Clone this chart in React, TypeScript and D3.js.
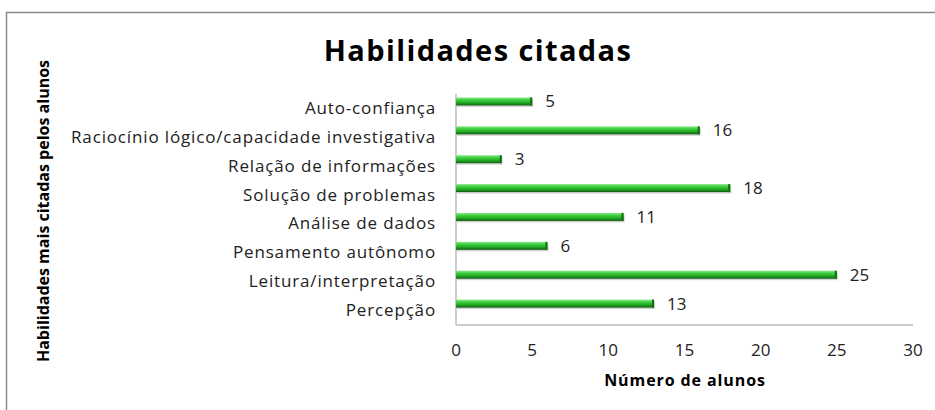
import React, { useRef, useEffect } from 'react'
import * as d3 from 'd3'

const categories = [
  'Auto-confiança',
  'Raciocínio lógico/capacidade investigativa',
  'Relação de informações',
  'Solução de problemas',
  'Análise de dados',
  'Pensamento autônomo',
  'Leitura/interpretação',
  'Percepção',
]
const values = [5, 16, 3, 18, 11, 6, 25, 13]
const xTicks = [0, 5, 10, 15, 20, 25, 30]

const font = '"Open Sans", "Noto Sans", sans-serif'

const App = () => {
  const svgRef = useRef<SVGSVGElement>(null)

  useEffect(() => {
    const svg = d3.select(svgRef.current)
    svg.selectAll('*').remove()

    const x = d3.scaleLinear().domain([0, 30]).range([456, 913])
    const y = d3.scaleBand().domain(categories).range([94, 325]).padding(0)
    const depth = 7 // 3d offset of the bars

    const defs = svg.append('defs')
    const grad = defs.append('linearGradient').attr('id', 'barGrad')
      .attr('x1', 0).attr('y1', 0).attr('x2', 0).attr('y2', 1)
    grad.append('stop').attr('offset', '0%').attr('stop-color', '#8fe88f')
    grad.append('stop').attr('offset', '30%').attr('stop-color', '#3fd03f')
    grad.append('stop').attr('offset', '65%').attr('stop-color', '#24aa24')
    grad.append('stop').attr('offset', '100%').attr('stop-color', '#0f5f0f')

    // frame
    svg.append('path').attr('d', 'M6.5,410 L6.5,12.5 L935,12.5')
      .attr('fill', 'none').attr('stroke', '#8a8a8a').attr('stroke-width', 1.5)

    // title
    svg.append('text').attr('x', 478).attr('y', 61).attr('text-anchor', 'middle')
      .attr('font-family', font).attr('font-weight', 'bold').attr('font-size', 29)
      .attr('letter-spacing', 1.4)
      .text('Habilidades citadas')

    // axes lines
    svg.append('line').attr('x1', 456).attr('x2', 456).attr('y1', 94).attr('y2', 325)
      .attr('stroke', '#bdbdbd').attr('stroke-width', 1.5)
    svg.append('line').attr('x1', 456).attr('x2', 913).attr('y1', 325).attr('y2', 325)
      .attr('stroke', '#bdbdbd').attr('stroke-width', 1.5)

    // x ticks
    svg.selectAll('.xt').data(xTicks).join('text').attr('class', 'xt')
      .attr('x', d => x(d)).attr('y', 356).attr('text-anchor', 'middle')
      .attr('font-family', font).attr('font-size', 17).attr('fill', '#222')
      .text(d => d)

    // category labels
    svg.selectAll('.cat').data(categories).join('text').attr('class', 'cat')
      .attr('x', 436).attr('y', d => y(d)! + y.bandwidth() / 2 + 5.5)
      .attr('text-anchor', 'end')
      .attr('font-family', font).attr('font-size', 17).attr('fill', '#222')
      .attr('letter-spacing', 0.85)
      .text(d => d)

    const bh = 8
    const bars = svg.selectAll('.bar').data(values).join('g').attr('class', 'bar')
    bars.append('rect')
      .attr('x', x(0) + 1)
      .attr('y', (d, i) => y(categories[i])! + y.bandwidth() / 2 - depth - bh / 2 + 1.5)
      .attr('width', d => x(d) - x(0))
      .attr('height', bh)
      .attr('fill', '#000').attr('opacity', 0.18)
    bars.append('rect')
      .attr('x', x(0))
      .attr('y', (d, i) => y(categories[i])! + y.bandwidth() / 2 - depth - bh / 2)
      .attr('width', d => x(d) - x(0))
      .attr('height', bh)
      .attr('fill', 'url(#barGrad)')
    bars.append('rect')
      .attr('x', d => x(d) - 2)
      .attr('y', (d, i) => y(categories[i])! + y.bandwidth() / 2 - depth - bh / 2)
      .attr('width', 2)
      .attr('height', bh)
      .attr('fill', '#136e13')

    // value labels
    svg.selectAll('.val').data(values).join('text').attr('class', 'val')
      .attr('x', d => x(d) + 13)
      .attr('y', (d, i) => y(categories[i])! + y.bandwidth() / 2 - depth + 6)
      .attr('font-family', font).attr('font-size', 17).attr('fill', '#222')
      .text(d => d)

    // axis titles
    svg.append('text').attr('x', 685).attr('y', 386).attr('text-anchor', 'middle')
      .attr('font-family', font).attr('font-weight', 'bold').attr('font-size', 16)
      .attr('letter-spacing', 0.9)
      .text('Número de alunos')
    svg.append('text').attr('transform', 'translate(49,211) rotate(-90)')
      .attr('text-anchor', 'middle')
      .attr('font-family', font).attr('font-weight', 'bold').attr('font-size', 16)
      .text('Habilidades mais citadas pelos alunos')
  }, [])

  return (
    <svg ref={svgRef} width={935} height={410}
      style={{ position: 'absolute', left: 0, top: 0, background: '#fff' }} />
  )
}

export default App
